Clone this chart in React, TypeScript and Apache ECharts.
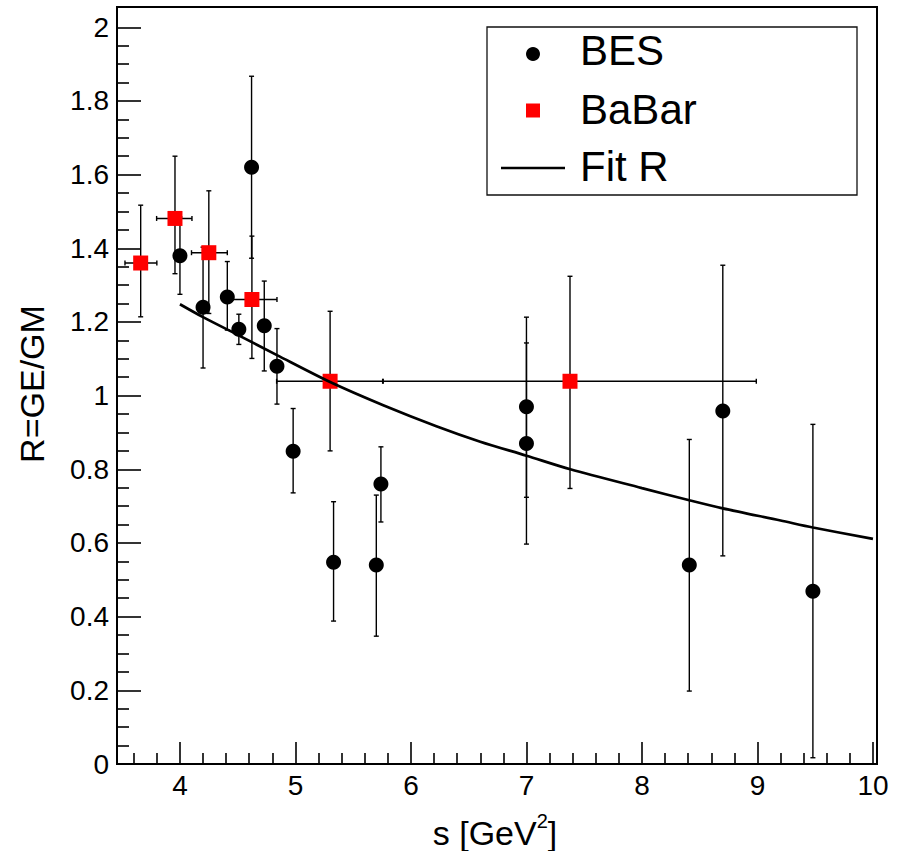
import React, { useEffect, useRef } from "react";
import * as echarts from "echarts";

// ---- BES data (s, R, lower / upper ends of error bar) ----
const besS = [4.0, 4.2, 4.41, 4.51, 4.62, 4.73, 4.84, 4.98, 5.33, 5.7, 5.74, 7.0, 7.0, 8.41, 8.7, 9.48];
const besR = [1.38, 1.24, 1.268, 1.18, 1.62, 1.19, 1.08, 0.849, 0.548, 0.54, 0.76, 0.97, 0.87, 0.54, 0.958, 0.469];
const besLow = [1.275, 1.075, 1.178, 1.139, 1.373, 1.067, 0.977, 0.736, 0.388, 0.347, 0.657, 0.724, 0.597, 0.198, 0.565, 0.017];
const besHigh = [1.485, 1.403, 1.364, 1.221, 1.867, 1.311, 1.182, 0.965, 0.712, 0.73, 0.861, 1.213, 1.143, 0.881, 1.354, 0.922];

// ---- BaBar data ----
const babarS = [3.66, 3.957, 4.25, 4.623, 5.3, 7.377];
const babarR = [1.36, 1.481, 1.388, 1.261, 1.039, 1.039];
const babarSLow = [3.524, 3.798, 4.1, 4.45, 4.837, 5.76];
const babarSHigh = [3.8, 4.104, 4.41, 4.84, 5.755, 8.99];
const babarRLow = [1.214, 1.331, 1.223, 1.101, 0.85, 0.748];
const babarRHigh = [1.517, 1.65, 1.556, 1.433, 1.229, 1.324];

// ---- Fit R curve ----
const fitS = [4.0, 4.2, 4.5, 4.84, 5.3, 5.76, 6.22, 6.6, 7.0, 7.38, 8.0, 8.41, 8.7, 9.2, 9.48, 10.0];
const fitR = [1.248, 1.213, 1.165, 1.11, 1.037, 0.974, 0.917, 0.875, 0.837, 0.8, 0.749, 0.716, 0.694, 0.661, 0.642, 0.611];

// ---- ticks ----
const xMajorTicks = [4, 5, 6, 7, 8, 9, 10];
const xMinorTicks = [3.6, 3.8, 4.2, 4.4, 4.6, 4.8, 5.2, 5.4, 5.6, 5.8, 6.2, 6.4, 6.6, 6.8, 7.2, 7.4, 7.6, 7.8, 8.2, 8.4, 8.6, 8.8, 9.2, 9.4, 9.6, 9.8];
const yMajorTicks = [0, 0.2, 0.4, 0.6, 0.8, 1, 1.2, 1.4, 1.6, 1.8, 2];
const yMinorTicks = [0.05, 0.1, 0.15, 0.25, 0.3, 0.35, 0.45, 0.5, 0.55, 0.65, 0.7, 0.75, 0.85, 0.9, 0.95, 1.05, 1.1, 1.15, 1.25, 1.3, 1.35, 1.45, 1.5, 1.55, 1.65, 1.7, 1.75, 1.85, 1.9, 1.95];

const X_MIN = 3.455;
const X_MAX = 10.035;
const Y_MIN = 0;
const Y_MAX = 2.055;

const FONT = "'Liberation Sans', Arial, Helvetica, sans-serif";

export default function App() {
  const ref = useRef<HTMLDivElement>(null);

  useEffect(() => {
    if (!ref.current) return;
    const chart = echarts.init(ref.current, undefined, { renderer: "svg" });
    const cap = 2.5;
    const errStyle = { stroke: "#000", lineWidth: 1.4 };

    const besErr = besS.map((s, i) => [s, besLow[i], besHigh[i]]);
    const babarErr = babarS.map((s, i) => [s, babarR[i], babarSLow[i], babarSHigh[i], babarRLow[i], babarRHigh[i]]);

    const xAxisBase = {
      type: "value",
      min: X_MIN,
      max: X_MAX,
      position: "bottom",
      splitLine: { show: false },
    };
    const yAxisBase = {
      type: "value",
      min: Y_MIN,
      max: Y_MAX,
      position: "left",
      splitLine: { show: false },
    };

    chart.setOption({
      animation: false,
      backgroundColor: "#fff",
      grid: {
        left: 117,
        right: 26,
        top: 7,
        bottom: 87,
        containLabel: false,
        show: true,
        borderColor: "#000",
        borderWidth: 2,
        backgroundColor: "transparent",
      },
      xAxis: [
        {
          ...xAxisBase,
          axisLine: { show: true, onZero: false, lineStyle: { color: "#000", width: 2 } },
          axisTick: { show: true, inside: true, length: 22, customValues: xMajorTicks, lineStyle: { color: "#000", width: 1.6 } },
          axisLabel: { customValues: xMajorTicks, fontSize: 28, color: "#000", fontFamily: FONT, margin: 7 },
        },
        {
          ...xAxisBase,
          axisLine: { show: false },
          axisTick: { show: true, inside: true, length: 11, customValues: xMinorTicks, lineStyle: { color: "#000", width: 1.6 } },
          axisLabel: { show: false },
        },
      ],
      yAxis: [
        {
          ...yAxisBase,
          axisLine: { show: true, onZero: false, lineStyle: { color: "#000", width: 2 } },
          axisTick: { show: true, inside: true, length: 24, customValues: yMajorTicks, lineStyle: { color: "#000", width: 1.6 } },
          axisLabel: { customValues: yMajorTicks, fontSize: 28, color: "#000", fontFamily: FONT, margin: 8 },
        },
        {
          ...yAxisBase,
          axisLine: { show: false },
          axisTick: { show: true, inside: true, length: 12, customValues: yMinorTicks, lineStyle: { color: "#000", width: 1.6 } },
          axisLabel: { show: false },
        },
      ],
      series: [
        {
          type: "custom",
          name: "BES errors",
          xAxisIndex: 0,
          yAxisIndex: 0,
          data: besErr,
          encode: { x: 0, y: [1, 2] },
          z: 2,
          renderItem: (params: any, api: any) => {
            const s = api.value(0);
            const lo = api.coord([s, api.value(1)]);
            const hi = api.coord([s, api.value(2)]);
            return {
              type: "group",
              children: [
                { type: "line", shape: { x1: lo[0], y1: lo[1], x2: hi[0], y2: hi[1] }, style: errStyle },
                { type: "line", shape: { x1: lo[0] - cap, y1: lo[1], x2: lo[0] + cap, y2: lo[1] }, style: errStyle },
                { type: "line", shape: { x1: hi[0] - cap, y1: hi[1], x2: hi[0] + cap, y2: hi[1] }, style: errStyle },
              ],
            };
          },
        },
        {
          type: "custom",
          name: "BaBar errors",
          xAxisIndex: 0,
          yAxisIndex: 0,
          data: babarErr,
          encode: { x: [0, 2, 3], y: [1, 4, 5] },
          z: 2,
          renderItem: (params: any, api: any) => {
            const s = api.value(0);
            const r = api.value(1);
            const l = api.coord([api.value(2), r]);
            const rr = api.coord([api.value(3), r]);
            const b = api.coord([s, api.value(4)]);
            const t = api.coord([s, api.value(5)]);
            return {
              type: "group",
              children: [
                { type: "line", shape: { x1: b[0], y1: b[1], x2: t[0], y2: t[1] }, style: errStyle },
                { type: "line", shape: { x1: b[0] - cap, y1: b[1], x2: b[0] + cap, y2: b[1] }, style: errStyle },
                { type: "line", shape: { x1: t[0] - cap, y1: t[1], x2: t[0] + cap, y2: t[1] }, style: errStyle },
                { type: "line", shape: { x1: l[0], y1: l[1], x2: rr[0], y2: rr[1] }, style: errStyle },
                { type: "line", shape: { x1: l[0], y1: l[1] - cap, x2: l[0], y2: l[1] + cap }, style: errStyle },
                { type: "line", shape: { x1: rr[0], y1: rr[1] - cap, x2: rr[0], y2: rr[1] + cap }, style: errStyle },
              ],
            };
          },
        },
        {
          type: "scatter",
          name: "BES",
          data: besS.map((s, i) => [s, besR[i]]),
          symbol: "circle",
          symbolSize: 15,
          itemStyle: { color: "#000", opacity: 1 },
          z: 3,
        },
        {
          type: "scatter",
          name: "BaBar",
          data: babarS.map((s, i) => [s, babarR[i]]),
          symbol: "rect",
          symbolSize: 15,
          itemStyle: { color: "#ff0000", opacity: 1 },
          z: 3,
        },
        {
          type: "line",
          name: "Fit R",
          data: fitS.map((s, i) => [s, fitR[i]]),
          smooth: 0.3,
          showSymbol: false,
          symbol: "none",
          lineStyle: { color: "#000", width: 2.7 },
          z: 4,
        },
      ],
      graphic: [
        // y-axis title
        {
          type: "text",
          x: 32,
          y: 384,
          rotation: Math.PI / 2,
          style: {
            text: "R=GE/GM",
            fontSize: 34,
            fontFamily: FONT,
            fill: "#000",
            align: "center",
            verticalAlign: "middle",
          },
        },
        // x-axis title
        {
          type: "text",
          x: 495,
          y: 833,
          style: {
            text: "{n|s [GeV}{sup|2}{n|]}",
            align: "center",
            verticalAlign: "middle",
            fill: "#000",
            rich: {
              n: { fontSize: 34, fontFamily: FONT, lineHeight: 44, fill: "#000" },
              sup: { fontSize: 20, fontFamily: FONT, lineHeight: 20, verticalAlign: "top", fill: "#000" },
            },
          },
        },
        // legend
        {
          type: "group",
          z: 100,
          children: [
            { type: "rect", shape: { x: 487, y: 27, width: 370, height: 168 }, style: { fill: "#fff", stroke: "#111", lineWidth: 1.3 } },
            { type: "circle", shape: { cx: 533, cy: 54, r: 7 }, style: { fill: "#000" } },
            { type: "text", x: 580, y: 50, style: { text: "BES", fontSize: 42, fontFamily: FONT, fill: "#000", verticalAlign: "middle", align: "left" } },
            { type: "rect", shape: { x: 526, y: 103.5, width: 14, height: 14 }, style: { fill: "#ff0000" } },
            { type: "text", x: 580, y: 109, style: { text: "BaBar", fontSize: 42, fontFamily: FONT, fill: "#000", verticalAlign: "middle", align: "left" } },
            { type: "line", shape: { x1: 501, y1: 168, x2: 565, y2: 168 }, style: { stroke: "#000", lineWidth: 2.4 } },
            { type: "text", x: 580, y: 166, style: { text: "Fit R", fontSize: 42, fontFamily: FONT, fill: "#000", verticalAlign: "middle", align: "left" } },
          ],
        },
      ],
    });

    return () => {
      chart.dispose();
    };
  }, []);

  return (
    <div
      ref={ref}
      style={{ position: "fixed", left: 0, top: 0, width: 903, height: 851, background: "#fff" }}
    />
  );
}
